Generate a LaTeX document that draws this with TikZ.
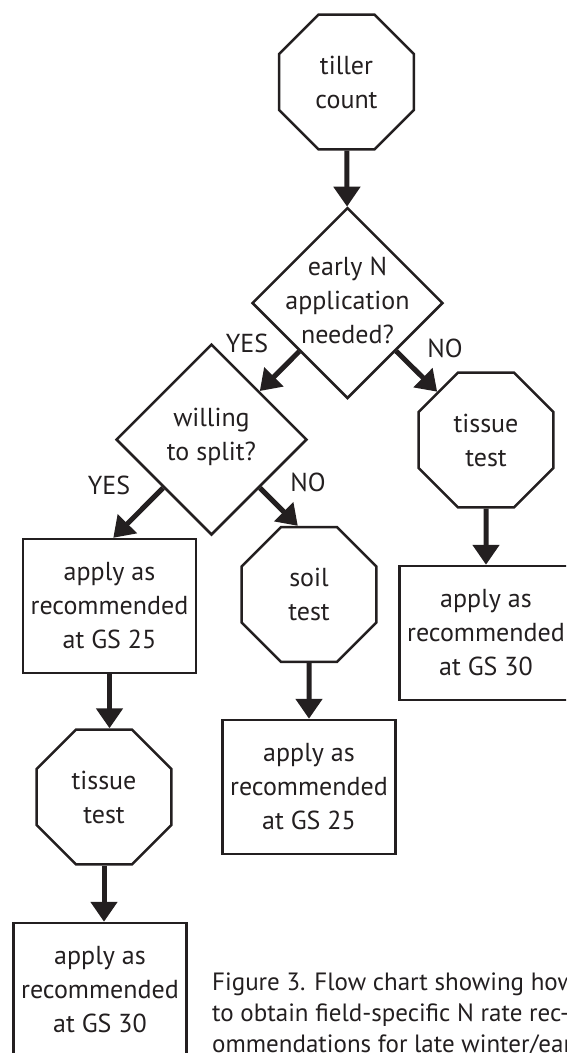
\documentclass[tikz,border=0pt]{standalone}
\usepackage{fontspec}
\setmainfont{PT Sans}
\usetikzlibrary{shapes.geometric,arrows.meta}
\definecolor{ink}{RGB}{35,31,32}

\tikzset{
    octagon/.style={draw=ink,line width=2.5pt,regular polygon,regular polygon sides=8,
        minimum size=146pt,inner sep=0pt,align=center,text=ink},
    decision/.style={draw=ink,line width=2.5pt,diamond,aspect=1,minimum size=191pt,inner sep=0pt},
    result/.style={draw=ink,line width=2.5pt,rectangle,minimum width=173pt,
        minimum height=134pt,inner sep=0pt,align=center,text=ink},
    question/.style={align=center,text=ink,inner sep=0pt},
    answer/.style={text=ink,inner sep=0pt},
    flow/.style={draw=ink,line width=5pt,-{Triangle[width=26pt,length=20pt]}},
}

\begin{document}
\begin{tikzpicture}[x=1pt,y=-1pt,font=\fontsize{26}{34}\selectfont]
\useasboundingbox (0,0) rectangle (566,1053);
\clip (0,0) rectangle (566,1053);

% Draw the tests and the questions
\node[octagon] (tiller) at (346.5,82) {tiller\\count};
\node[decision] (early) at (347.5,303) {};
\node[question] (earlyText) at (347.5,300) {early N\\application\\needed?};
\node[decision] (willing) at (211.5,439.5) {};
\node[question] (willingText) at (211.5,437) {willing\\to split?};
\node[octagon] (tissueR) at (486,440) {tissue\\test};
\node[octagon] (soil) at (309,594.5) {soil\\test};
\node[octagon] (tissueL) at (104,797) {tissue\\test};

% Draw the recommendations
\node[result] (boxR) at (486,633) {apply as\\recommended\\at GS 30};
\node[result] (box25) at (109.5,606) {apply as\\recommended\\at GS 25};
\node[result] (soil25) at (309,787) {apply as\\recommended\\at GS 25};
\node[result] (box30) at (100,990) {apply as\\recommended\\at GS 30};

% Draw the answers
\node[answer] (yesEarly) at (247,343) {YES};
\node[answer] (noEarly) at (445,348) {NO};
\node[answer] (yesSplit) at (109,485) {YES};
\node[answer] (noSplit) at (308,482) {NO};

% Draw the arrows for the path
\draw[flow] (tiller) -- (early);
\draw[flow] (early) -- (willing);
\draw[flow] (early) -- (tissueR);
\draw[flow] (tissueR) -- (boxR);
\draw[flow] (willing.south west) -- (intersection cs:
    first line={(willing.center)--(willing.south west)},
    second line={(box25.north west)--(box25.north east)});
\draw[flow] (willing.south east) -- (intersection cs:
    first line={(willing.center)--(willing.south east)},
    second line={(soil.north)--(soil.north -| willing)});
\draw[flow] (soil) -- (soil25);
\draw[flow] (box25.south) -- (box25.south |- tissueL.north);
\draw[flow] (tissueL.south) -- (tissueL.south |- box30.north);

% Draw the caption
\node[anchor=north west,align=left,text=ink,inner sep=0pt,font=\fontsize{25}{31}\selectfont]
    (caption) at (212,973) {Figure 3. Flow chart showing how\\
    to obtain field-specific N rate rec-\\
    ommendations for late winter/early};

\end{tikzpicture}
\end{document}
